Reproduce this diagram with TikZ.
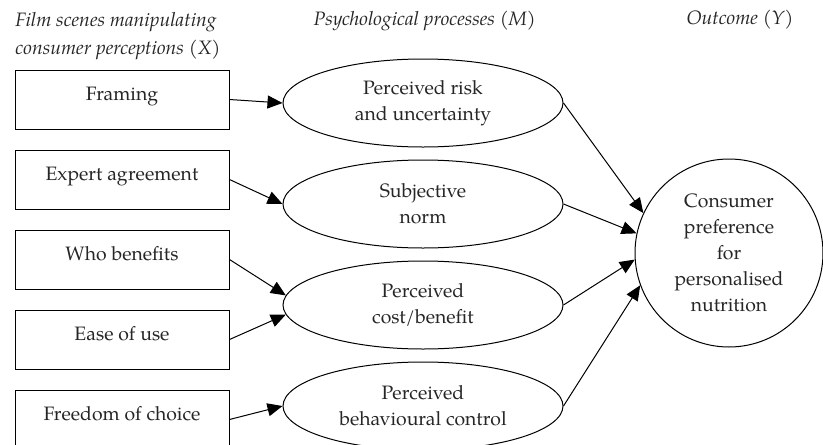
\documentclass[tikz,border=0pt]{standalone}
\usepackage{fontspec}
\setmainfont{TeX Gyre Pagella}
\usetikzlibrary{positioning}
\usetikzlibrary{arrows.meta}
\usetikzlibrary{shapes}
\tikzset{
        treenode/.style={align=center, inner sep=0pt, text=black!85, font=\fontsize{19.4}{26}\selectfont},
        % Film scene boxes
        node_scene/.style={treenode, rectangle, draw=black, minimum width=214pt, text height=30pt, text depth=29pt},
        % Psychological processes
        node_process/.style={treenode, ellipse, draw=black, minimum width=280pt, minimum height=88pt},
        % Outcome
        node_outcome/.style={treenode, circle, draw=black, minimum size=188pt},
        % Column headings
        node_heading/.style={align=left, inner sep=0pt, text=black!85, font=\fontsize{19.4}{28}\selectfont\itshape}
}

\begin{document}
\begin{tikzpicture}[
            ->,
            >={Triangle[length=15pt,width=13pt]},
            line width=1pt,
            x=1pt, y=-1pt
        ]
            \useasboundingbox (0,0) rectangle (823,445);
            % Headings
            \node[node_heading, anchor=base west] (head_x) at (15,54) {Film scenes manipulating\\consumer perceptions (X)};
            \node[node_heading, anchor=base west] (head_m) at (313,25) {Psychological processes (M)};
            \node[node_heading, anchor=base west] (head_y) at (686,24) {Outcome (Y)};
            % Film scenes (X)
            \node[node_scene] (framing) at (122,99.5) {Framing};
            \node[node_scene, below=20pt of framing] (expert) {Expert agreement};
            \node[node_scene, below=20pt of expert] (who) {Who benefits};
            \node[node_scene, below=20pt of who] (ease) {Ease of use};
            \node[node_scene, below=20pt of ease] (freedom) {Freedom of choice};
            % Processes (M)
            \node[node_process] (risk) at (423,103) {Perceived risk\\and uncertainty};
            \node[node_process, below=12pt of risk] (norm) {Subjective\\norm};
            \node[node_process, below=12pt of norm] (cost) {Perceived\\cost/benefit};
            \node[node_process, below=12pt of cost] (control) {Perceived\\behavioural control};
            % Outcome (Y)
            \node[node_outcome] (outcome) at (729,253) {Consumer\\preference\\for\\personalised\\nutrition};
            % Paths
            \draw (framing.east) -- (risk.west);
            \draw (expert.east) -- (norm.west);
            \draw (who.east) -- (cost.176);
            \draw (ease.east) -- (cost.184);
            \draw (freedom.east) -- (control.west);
            \draw (risk.east) -- (outcome.155);
            \draw (norm.east) -- (outcome.168);
            \draw (cost.east) -- (outcome.184);
            \draw (control.east) -- (outcome.200);
        \end{tikzpicture}
\end{document}
